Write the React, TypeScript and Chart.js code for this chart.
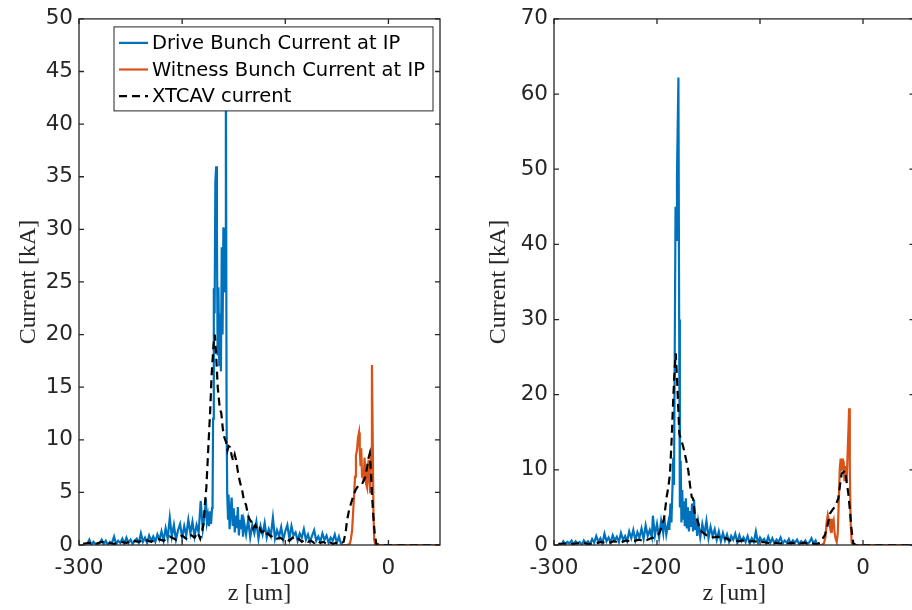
import React, { useEffect, useRef } from "react";
import { Chart, registerables } from "chart.js";

Chart.register(...registerables);

// ---------- Text ----------
const legendLabels = ["Drive Bunch Current at IP", "Witness Bunch Current at IP", "XTCAV current"];
const xTitle = "z [um]";
const yTitle = "Current [kA]";

// ---------- Ticks ----------
const xTicks = [-300, -200, -100, 0];
const yTicksLeft = [0, 5, 10, 15, 20, 25, 30, 35, 40, 45, 50];
const yTicksRight = [0, 10, 20, 30, 40, 50, 60, 70];

// ---------- Left panel data: [z (um), current (kA)] ----------
const driveLeft: [number, number][] = [
  [-292, 0.1], [-290, 0.5], [-288, 0.0], [-286, 0.3], [-284, 0.1], [-282, 0.0], [-280, 0.2], [-278, 0.5],
  [-276, 0.1], [-274, 0.4], [-272, 0.0], [-270, 0.3], [-268, 0.2], [-266, 0.8], [-264, 0.1], [-262, 0.4],
  [-260, 0.2], [-258, 0.6], [-256, 0.1], [-254, 0.7], [-252, 0.2], [-250, 0.5], [-248, 0.1], [-246, 0.4],
  [-244, 0.6], [-242, 0.2], [-240, 1.1], [-238, 0.3], [-236, 0.7], [-234, 0.2], [-232, 0.9], [-230, 0.4],
  [-228, 0.8], [-226, 0.3], [-224, 1.0], [-222, 0.5], [-220, 1.3], [-218, 0.4], [-216, 1.6], [-214, 0.6],
  [-212, 2.6], [-210, 0.8], [-208, 1.9], [-206, 0.5], [-204, 1.4], [-202, 2.0], [-200, 0.7], [-198, 1.8],
  [-196, 0.9], [-194, 2.4], [-192, 1.1], [-190, 2.2], [-188, 0.8], [-186, 1.9], [-184, 1.2], [-182, 4.2],
  [-180, 1.5], [-178, 3.0], [-177, 4.4], [-176, 2.2], [-175, 2.8], [-174, 1.8], [-173, 3.2], [-172, 2.0],
  [-171, 3.5], [-170.5, 4.0], [-170, 12], [-169.3, 24.4], [-168.5, 22], [-167.8, 34.5], [-167, 36.0],
  [-166.3, 30], [-165.6, 18], [-164.8, 24.5], [-164, 17], [-163.2, 22], [-162.4, 16.5], [-161.6, 28.3],
  [-160.8, 20], [-160, 30.2], [-159.2, 24], [-158.4, 30], [-157.6, 47], [-156.9, 12], [-156.3, 4.8],
  [-155.5, 2.5], [-155, 4.8], [-154, 1.5], [-153, 3.2], [-152, 4.5], [-151, 1.8], [-150, 3.5], [-149, 1.2],
  [-148, 2.8], [-147, 1.6], [-146, 3.6], [-145, 0.9], [-144, 2.4], [-143, 1.5], [-142, 2.9], [-141, 0.8],
  [-140, 2.2], [-138, 1.0], [-136, 2.4], [-134, 0.7], [-132, 1.9], [-130, 1.1], [-128, 2.2], [-126, 0.6],
  [-124, 1.8], [-122, 1.0], [-120, 2.1], [-118, 0.7], [-116, 1.5], [-114, 0.9], [-112, 2.6], [-110, 0.6],
  [-108, 1.4], [-106, 0.8], [-104, 1.7], [-102, 0.5], [-100, 1.3], [-98, 1.9], [-96, 0.6], [-94, 1.8],
  [-92, 0.9], [-90, 1.2], [-88, 0.4], [-86, 1.1], [-84, 0.7], [-82, 1.5], [-80, 0.5], [-78, 1.0],
  [-76, 0.3], [-74, 0.9], [-72, 1.4], [-70, 0.4], [-68, 0.8], [-66, 0.3], [-64, 1.1], [-62, 0.5],
  [-60, 0.9], [-58, 0.2], [-56, 0.7], [-54, 0.4], [-52, 1.0], [-50, 0.2], [-48, 0.8], [-46, 0.1], [-45, 0.0],
];

const witnessLeft: [number, number][] = [
  [-45, 0], [-40, 0], [-37.5, 0.1], [-36.5, 0.5], [-35.2, 1.4], [-34, 3.5], [-33.2, 4.9], [-32.4, 6.5],
  [-31.5, 8.5], [-30.5, 9.0], [-29.5, 10.2], [-28.5, 10.7], [-27.8, 9.0], [-27, 7.5], [-26.3, 9.2],
  [-25.6, 6.5], [-24.8, 7.1], [-24, 6.0], [-23.2, 8.3], [-22.4, 7.0], [-21.6, 5.8], [-20.8, 5.5],
  [-20, 7.2], [-19.2, 8.1], [-18.4, 6.0], [-17.6, 4.9], [-16.8, 9.0], [-16, 17.1], [-15.2, 10.0],
  [-14.5, 3.0], [-13.8, 0.5], [-13, 0.1], [-12, 0], [50, 0],
];

const xtcavLeft: [number, number][] = [
  [-296, 0.1], [-290, 0.2], [-284, 0.1], [-278, 0.3], [-272, 0.2], [-266, 0.1], [-260, 0.3], [-254, 0.2],
  [-248, 0.4], [-242, 0.3], [-236, 0.5], [-230, 0.3], [-224, 0.6], [-218, 0.4], [-212, 0.8], [-206, 0.5],
  [-200, 0.9], [-196, 0.6], [-192, 1.0], [-188, 0.7], [-185, 1.2], [-182.5, 0.6], [-180.5, 1.4],
  [-179.3, 2.0], [-178, 3.8], [-176.5, 5.5], [-175, 8.5], [-174, 10.5], [-172.8, 12.8], [-171.5, 16],
  [-169.6, 19], [-168.3, 20.0], [-167, 18], [-165.5, 15], [-163.5, 13], [-162, 12.5], [-160.5, 11],
  [-159, 10.2], [-157.5, 9.8], [-156, 9.0], [-155, 9.4], [-153.5, 9.3], [-152, 8.5], [-150.5, 8.0],
  [-149, 8.6], [-147.5, 8.0], [-146, 7.0], [-144, 6.0], [-142, 5.3], [-140, 4.2], [-138, 3.8],
  [-136.5, 3.0], [-135, 2.5], [-133, 2.2], [-131, 1.6], [-129, 1.9], [-127, 1.4], [-125, 1.6],
  [-123, 1.2], [-121, 1.3], [-119, 0.9], [-117, 1.1], [-114, 0.8], [-111, 0.9], [-108, 0.6], [-105, 0.7],
  [-102, 0.5], [-99, 0.6], [-96, 0.4], [-93, 0.7], [-90, 0.4], [-87, 0.6], [-84, 0.3], [-81, 0.5],
  [-78, 0.3], [-75, 0.4], [-72, 0.2], [-69, 0.4], [-66, 0.2], [-63, 0.3], [-60, 0.1], [-57, 0.3],
  [-54, 0.1], [-51, 0.2], [-48, 0.1], [-45.5, 0.2], [-43.4, 0.3], [-41.5, 1.2], [-40, 2.4], [-38, 3.4],
  [-35.2, 4.3], [-32, 5.2], [-28.8, 5.7], [-25.5, 5.8], [-22.3, 6.5], [-20.7, 7.4], [-19.2, 8.3],
  [-18.1, 8.7], [-17, 7.0], [-15.8, 4.6], [-14.5, 2.5], [-13.3, 1.1], [-11.7, 0.1], [-8, 0], [50, 0],
];

// ---------- Right panel data: [z (um), current (kA)] ----------
const driveRight: [number, number][] = [
  [-295, 0.3], [-293, 0.0], [-291, 0.5], [-289, 0.1], [-287, 0.4], [-285, 0.2], [-283, 0.6], [-281, 0.1],
  [-279, 0.5], [-277, 0.2], [-275, 0.4], [-273, 0.0], [-271, 0.6], [-269, 0.2], [-267, 0.5], [-265, 0.1],
  [-263, 0.8], [-261, 0.3], [-259, 1.2], [-257, 0.4], [-255, 0.9], [-253, 0.2], [-251, 1.5], [-249, 0.5],
  [-247, 1.0], [-245, 0.3], [-243, 1.3], [-241, 0.6], [-239, 1.1], [-237, 0.4], [-235, 1.6], [-233, 0.7],
  [-231, 1.2], [-229, 0.5], [-227, 1.8], [-225, 0.9], [-223, 2.0], [-221, 0.6], [-219, 1.7], [-217, 1.0],
  [-215, 2.2], [-213, 0.8], [-211, 2.6], [-209, 1.2], [-207, 2.0], [-205, 1.0], [-204, 3.9], [-202, 1.3],
  [-200, 2.8], [-198, 1.0], [-196, 3.2], [-194, 1.6], [-193, 3.7], [-191, 1.4], [-189, 3.0], [-188, 2.0],
  [-187, 5.5], [-186, 3.0], [-185, 7.5], [-184.2, 11.6], [-183.5, 8], [-182.8, 25], [-182, 45],
  [-181.3, 40.6], [-180.6, 49], [-179.9, 55.8], [-179.2, 62.2], [-178.5, 30], [-177.8, 5.0], [-177, 11.2],
  [-176.3, 3], [-175.5, 7.3], [-174.7, 3.5], [-174, 5.8], [-173, 2.5], [-172, 6.2], [-171, 2.2], [-170, 5.0],
  [-169, 1.8], [-168, 4.5], [-167, 2.4], [-166, 5.5], [-165, 1.8], [-164, 6.0], [-163, 2.0], [-162, 3.3],
  [-161, 1.2], [-160, 3.0], [-158, 1.0], [-156, 2.8], [-154, 1.4], [-152, 3.2], [-150, 0.9], [-148, 2.4],
  [-146, 1.2], [-144, 2.1], [-142, 0.7], [-140, 1.8], [-138, 0.5], [-136, 1.6], [-134, 0.6], [-132, 1.4],
  [-130, 0.4], [-128, 1.2], [-126, 0.7], [-124, 1.5], [-122, 0.3], [-120, 1.3], [-118, 0.5], [-116, 1.0],
  [-114, 0.4], [-112, 1.2], [-110, 0.2], [-108, 0.9], [-106, 0.4], [-104, 1.8], [-102, 0.3], [-100, 1.0],
  [-98, 0.5], [-96, 0.8], [-94, 0.2], [-92, 1.1], [-90, 0.3], [-88, 0.9], [-86, 0.2], [-84, 0.7],
  [-82, 0.4], [-80, 1.0], [-78, 0.2], [-76, 0.6], [-74, 0.3], [-72, 0.8], [-70, 0.1], [-68, 0.6],
  [-66, 0.3], [-64, 0.7], [-62, 0.1], [-60, 0.5], [-58, 0.2], [-56, 0.6], [-54, 0.1], [-52, 0.4],
  [-50, 0.9], [-48, 0.2], [-46, 0.6], [-44.5, 0.0],
];

const witnessRight: [number, number][] = [
  [-44.3, 0], [-40, 0], [-38, 0.2], [-36.5, 1.0], [-35.3, 3.0], [-34.2, 4.0], [-33, 3.2], [-32, 2.4],
  [-31, 3.5], [-30.4, 1.6], [-29.5, 2.8], [-28.5, 3.3], [-27.5, 1.5], [-26.5, 0.8], [-25.5, 0.4],
  [-24.5, 1.5], [-23.5, 6], [-22.5, 10.2], [-21.7, 11.5], [-21, 9.8], [-20.3, 11.5], [-19.5, 10.0],
  [-18.8, 11.2], [-18, 8.5], [-17.3, 10.5], [-16.5, 9.0], [-15.8, 8.5], [-15, 12], [-14.2, 15],
  [-13.5, 18.2], [-12.8, 10], [-12, 3], [-11, 0.3], [-10, 0], [50, 0],
];

const xtcavRight: [number, number][] = [
  [-296, 0.1], [-290, 0.2], [-284, 0.1], [-278, 0.2], [-272, 0.3], [-266, 0.1], [-260, 0.2], [-254, 0.4],
  [-248, 0.2], [-242, 0.5], [-236, 0.3], [-230, 0.6], [-224, 0.4], [-218, 0.7], [-212, 0.5], [-206, 0.9],
  [-201.9, 1.0], [-198, 1.5], [-195.4, 2.4], [-193.2, 3.5], [-190.6, 6.4], [-189, 7.7], [-187.4, 9.5],
  [-185.8, 14], [-184.2, 19.6], [-182.8, 23.5], [-181.8, 25.5], [-180.5, 22], [-179.3, 18], [-178.3, 14.8],
  [-176.5, 14], [-174.4, 13], [-172, 11.5], [-169.6, 9.9], [-168, 8.0], [-166.3, 6.4], [-165, 6.2],
  [-163.1, 3.9], [-160.8, 3.3], [-158.3, 2.0], [-155, 1.6], [-152, 1.3], [-148.5, 1.2], [-145, 1.0],
  [-141, 1.1], [-137, 0.8], [-133, 0.9], [-129, 0.6], [-125, 0.7], [-121, 0.5], [-117, 0.6], [-113, 0.4],
  [-109, 0.5], [-105, 0.5], [-101, 0.3], [-97, 0.4], [-93, 0.3], [-89, 0.2], [-85, 0.3], [-81, 0.2],
  [-77, 0.3], [-73, 0.2], [-69, 0.3], [-65, 0.1], [-61, 0.2], [-57, 0.3], [-53, 0.1], [-49, 0.2],
  [-45, 0.1], [-41.8, 0.3], [-39.5, 0.8], [-37, 1.3], [-34.5, 2.6], [-32, 4.2], [-29.5, 4.7], [-27.2, 5.1],
  [-24, 6.2], [-22.3, 8.0], [-20.7, 9.5], [-19, 9.7], [-17.5, 9.9], [-16, 8.5], [-14.3, 6.9], [-12.6, 4.5],
  [-11.1, 2.0], [-9.4, 0.2], [-7, 0], [50, 0],
];

// ---------- Styles ----------
const DRIVE_COLOR = "#0072BD";
const WITNESS_COLOR = "#D95319";
const XTCAV_COLOR = "#000000";
const AXIS_COLOR = "#262626";
const TICK_FONT = { family: "'DejaVu Sans', sans-serif", size: 21.5 };
const TITLE_FONT = { family: "'Liberation Serif', serif", size: 24 };
const LEGEND_FONT = "19.5px 'DejaVu Sans', sans-serif";

const framePlugin = {
  id: "frame",
  afterDatasetsDraw(chart: any, _args: any, opts: any) {
    const { ctx, chartArea: a, scales } = chart;
    ctx.save();
    ctx.strokeStyle = AXIS_COLOR;
    ctx.lineWidth = 1.3;
    ctx.setLineDash([]);
    ctx.beginPath();
    const tl = 5;
    for (const t of scales.x.ticks) {
      const px = scales.x.getPixelForValue(t.value);
      ctx.moveTo(px, a.bottom);
      ctx.lineTo(px, a.bottom - tl);
      ctx.moveTo(px, a.top);
      ctx.lineTo(px, a.top + tl);
    }
    for (const t of scales.y.ticks) {
      const py = scales.y.getPixelForValue(t.value);
      ctx.moveTo(a.left, py);
      ctx.lineTo(a.left + tl, py);
      ctx.moveTo(a.right, py);
      ctx.lineTo(a.right - tl, py);
    }
    ctx.stroke();
    ctx.strokeRect(a.left, a.top, a.right - a.left, a.bottom - a.top);

    if (opts && opts.legend) {
      const lx = a.left + 35;
      const ly = a.top + 8;
      const lw = 319;
      const lh = 84;
      ctx.fillStyle = "#ffffff";
      ctx.fillRect(lx, ly, lw, lh);
      ctx.lineWidth = 1;
      ctx.strokeStyle = AXIS_COLOR;
      ctx.strokeRect(lx, ly, lw, lh);
      ctx.font = LEGEND_FONT;
      ctx.textBaseline = "middle";
      ctx.textAlign = "left";
      chart.data.datasets.forEach((ds: any, i: number) => {
        const ry = ly + 16 + i * 26.6;
        ctx.beginPath();
        ctx.strokeStyle = ds.borderColor;
        ctx.lineWidth = 2.2;
        ctx.setLineDash(ds.borderDash || []);
        ctx.moveTo(lx + 5, ry);
        ctx.lineTo(lx + 34, ry);
        ctx.stroke();
        ctx.setLineDash([]);
        ctx.fillStyle = "#000000";
        ctx.fillText(ds.label, lx + 38, ry + 1);
      });
    }
    ctx.restore();
  },
};

function buildConfig(p: {
  drive: [number, number][];
  witness: [number, number][];
  xtcav: [number, number][];
  yMax: number;
  yTicks: number[];
  padRight: number;
  yWidth: number;
  legend: boolean;
}): any {
  const toPts = (arr: [number, number][]) => arr.map(([x, y]) => ({ x, y }));
  return {
    type: "line",
    data: {
      datasets: [
        { label: legendLabels[0], data: toPts(p.drive), borderColor: DRIVE_COLOR, borderWidth: 2.2, pointRadius: 0, tension: 0, order: 2 },
        { label: legendLabels[1], data: toPts(p.witness), borderColor: WITNESS_COLOR, borderWidth: 2.2, pointRadius: 0, tension: 0, order: 1 },
        { label: legendLabels[2], data: toPts(p.xtcav), borderColor: XTCAV_COLOR, borderWidth: 2.2, borderDash: [8, 5], pointRadius: 0, tension: 0, order: 0 },
      ],
    },
    options: {
      animation: false,
      responsive: false,
      devicePixelRatio: 1,
      events: [],
      layout: { padding: { top: 16, right: p.padRight, bottom: 0, left: 0 } },
      plugins: {
        legend: { display: false },
        tooltip: { enabled: false },
        frame: { legend: p.legend },
      },
      scales: {
        x: {
          type: "linear",
          min: -300,
          max: 50,
          afterBuildTicks: (s: any) => { s.ticks = xTicks.map((v) => ({ value: v })); },
          afterFit: (s: any) => { s.height = 65; },
          grid: { display: false, drawTicks: false },
          border: { display: false },
          ticks: { font: TICK_FONT, color: AXIS_COLOR, padding: 11, maxRotation: 0, callback: (v: any) => String(v) },
          title: { display: true, text: xTitle, font: TITLE_FONT, color: AXIS_COLOR, padding: { top: 0, bottom: 2 } },
        },
        y: {
          type: "linear",
          min: 0,
          max: p.yMax,
          afterBuildTicks: (s: any) => { s.ticks = p.yTicks.map((v) => ({ value: v })); },
          afterFit: (s: any) => { s.width = p.yWidth; },
          grid: { display: false, drawTicks: false },
          border: { display: false },
          ticks: { font: TICK_FONT, color: AXIS_COLOR, padding: 6, callback: (v: any) => String(v) },
          title: { display: true, text: yTitle, font: TITLE_FONT, color: AXIS_COLOR, padding: { top: 14, bottom: 0 } },
        },
      },
    },
    plugins: [framePlugin],
  };
}

export default function App() {
  const leftRef = useRef<HTMLCanvasElement>(null);
  const rightRef = useRef<HTMLCanvasElement>(null);

  useEffect(() => {
    const c1 = new Chart(leftRef.current as HTMLCanvasElement, buildConfig({
      drive: driveLeft, witness: witnessLeft, xtcav: xtcavLeft,
      yMax: 50, yTicks: yTicksLeft, padRight: 30, yWidth: 79, legend: true,
    }));
    const c2 = new Chart(rightRef.current as HTMLCanvasElement, buildConfig({
      drive: driveRight, witness: witnessRight, xtcav: xtcavRight,
      yMax: 70, yTicks: yTicksRight, padRight: 25.5, yWidth: 84, legend: false,
    }));
    return () => { c1.destroy(); c2.destroy(); };
  }, []);

  return (
    <div style={{ position: "fixed", left: 0, top: 0, width: 912, height: 610, overflow: "hidden", background: "#ffffff" }}>
      <canvas ref={leftRef} width={470} height={610} style={{ position: "absolute", left: 0, top: 0 }} />
      <canvas ref={rightRef} width={470} height={610} style={{ position: "absolute", left: 470, top: 0 }} />
    </div>
  );
}
